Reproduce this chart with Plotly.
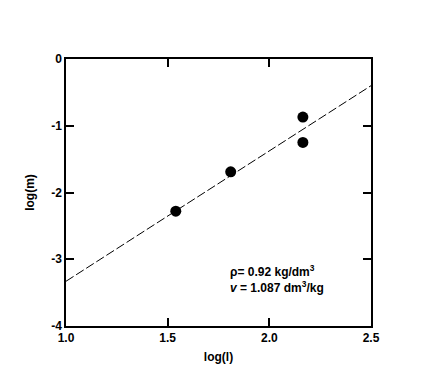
import plotly.graph_objects as go

# data
log_l = [1.54, 1.81, 2.165, 2.165]
log_m = [-2.28, -1.69, -0.87, -1.25]
fit_x = [1.0, 2.5]
fit_y = [-3.33, -0.40]
x_ticks = [1.0, 1.5, 2.0, 2.5]
x_tick_text = ["1.0", "1.5", "2.0", "2.5"]
y_ticks = [0, -1, -2, -3, -4]
y_tick_text = ["0", "-1", "-2", "-3", "-4"]

fig = go.Figure()
fig.add_trace(go.Scatter(x=fit_x, y=fit_y, mode="lines",
                         line=dict(color="black", width=1, dash="9px,3px"),
                         showlegend=False, hoverinfo="skip"))
fig.add_trace(go.Scatter(x=log_l, y=log_m, mode="markers",
                         marker=dict(color="black", size=11, symbol="circle"),
                         showlegend=False))

font = dict(family="Liberation Sans, Arial", size=12, color="black")
axis_common = dict(showgrid=False, zeroline=False, showline=True, linecolor="black",
                   linewidth=1.5, mirror="ticks", ticks="inside", ticklen=8,
                   tickwidth=1.5, tickcolor="black",
                   tickfont=dict(family="Liberation Sans, Arial", size=12, color="black"))

fig.update_layout(
    width=421, height=388,
    margin=dict(l=58, r=58, t=51, b=70),
    plot_bgcolor="white", paper_bgcolor="white",
    font=font,
    xaxis=dict(range=[1.0, 2.5], tickvals=x_ticks, ticktext=["<b>%s</b>" % t for t in x_tick_text],
               title=dict(text="<b>log(l)</b>", standoff=8, font=dict(size=12)), **axis_common),
    yaxis=dict(range=[-4, 0], tickvals=y_ticks, ticktext=["<b>%s</b>" % t for t in y_tick_text],
               title=dict(text="<b>log(m)</b>", standoff=14, font=dict(size=12)), **axis_common),
)

fig.add_annotation(xref="paper", yref="paper", x=0.53, y=0.175, xanchor="left", yanchor="middle",
                   showarrow=False, align="left",
                   text="<b>ρ= 0.92 kg/dm<sup>3</sup></b><br><b><i>v</i> = 1.087 dm<sup>3</sup>/kg</b>",
                   font=dict(family="Liberation Sans, Arial", size=12, color="black"))

fig.write_html("out.html")
